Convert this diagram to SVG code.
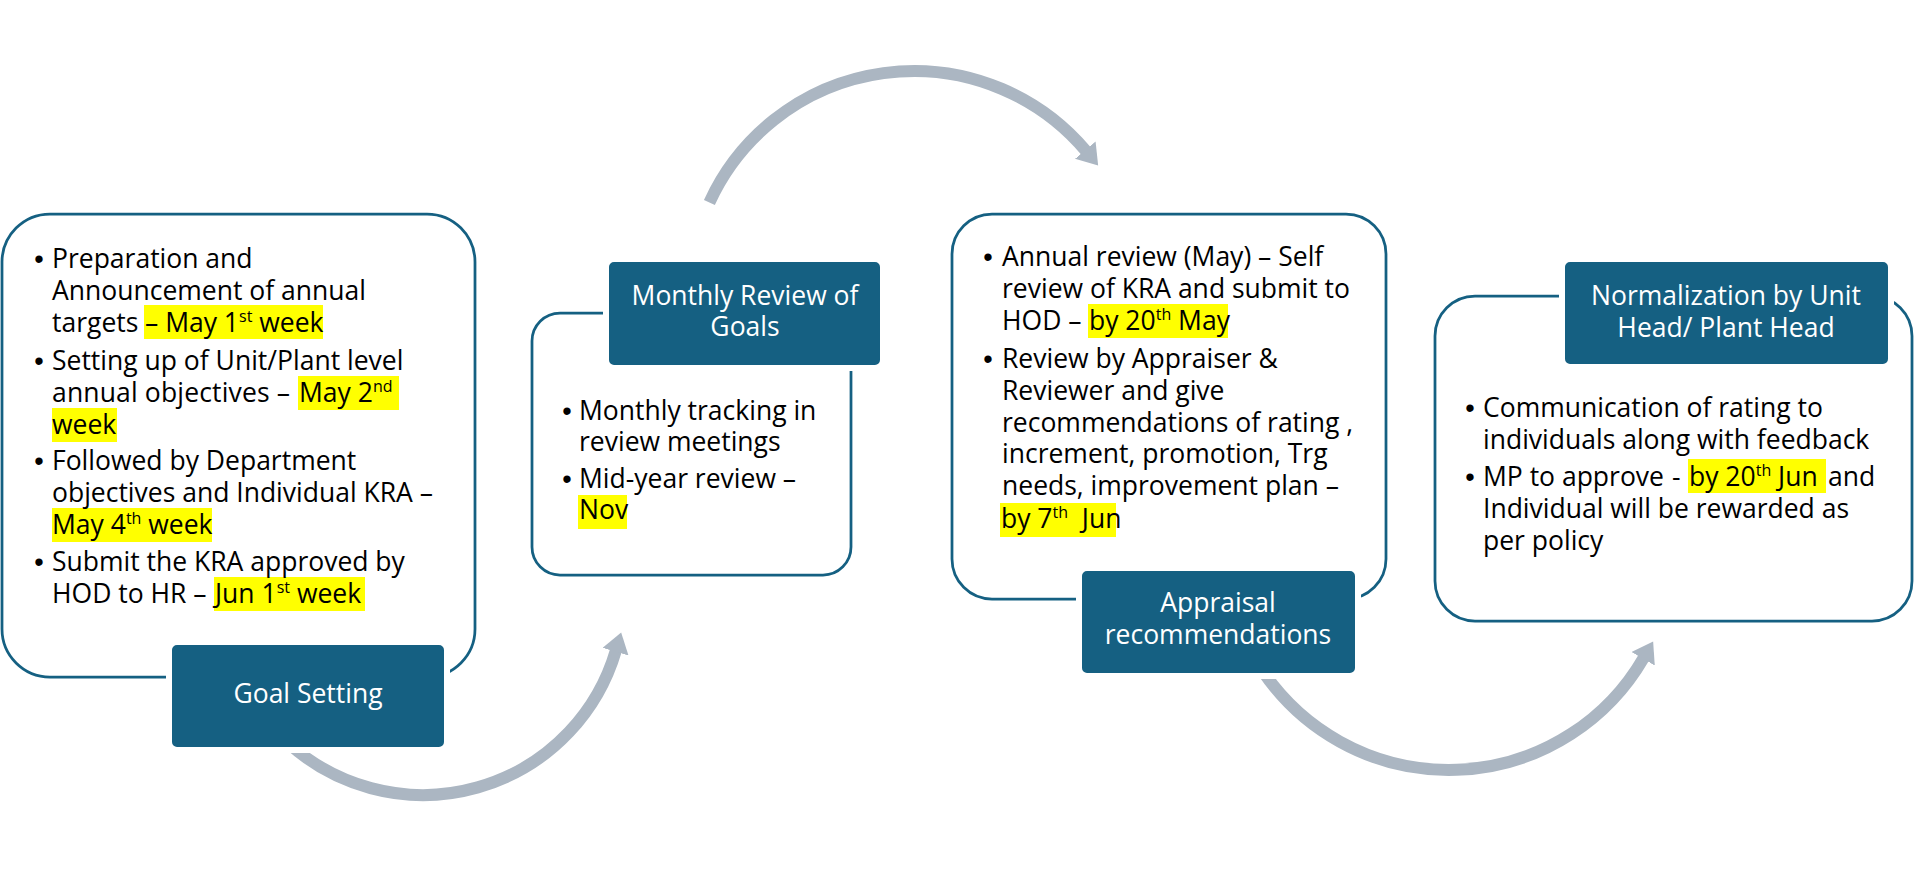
<svg xmlns="http://www.w3.org/2000/svg" width="1915" height="889" viewBox="0 0 1915 889">
<style>
.t{font-family:"Open Sans","Liberation Sans",sans-serif;font-size:26.5px;fill:#000}
.h{font-family:"Open Sans","Liberation Sans",sans-serif;font-size:26.5px;fill:#fff;text-anchor:middle}
.b{font-family:"Liberation Sans",Arial,sans-serif;font-size:27px;fill:#000;text-anchor:middle}
.sup{font-size:16px}
.hl{fill:#ffff00}
.box{fill:#fff;stroke:#156082;stroke-width:2.75}
.hdr{fill:#156082;stroke:#fff;stroke-width:6}
.arc{fill:none;stroke:#abb6c2;stroke-width:12;marker-end:url(#ah)}
</style>
<defs>
<marker id="ah" markerUnits="userSpaceOnUse" viewBox="0 0 22 27" markerWidth="22" markerHeight="27" refX="1" refY="13.5" orient="auto">
<path d="M0,0 L20,13.5 L0,27 Z" fill="#abb6c2"/>
</marker>
</defs>
<rect width="1915" height="889" fill="#fff"/>
<g id="connectors">
<path class="arc" d="M 288.5 743.4 A 201 201 0 0 0 615.8 650.7"/>
<path class="arc" d="M 709.4 202.4 A 225 225 0 0 1 1085.9 150.9"/>
<path class="arc" d="M 1262.5 670.8 A 225 225 0 0 0 1643.6 657.9"/>
</g>
<g id="goal-setting">
<rect class="box" x="2" y="214" width="473" height="463" rx="48"/>
<rect class="hl" x="144" y="305" width="179" height="34"/>
<rect class="hl" x="298" y="376" width="101" height="34"/>
<rect class="hl" x="52" y="408" width="65" height="34"/>
<rect class="hl" x="52" y="508" width="160" height="34"/>
<rect class="hl" x="214" y="577" width="151" height="34"/>
<text class="b" x="39" y="268">•</text>
<text class="b" x="39" y="370">•</text>
<text class="b" x="39" y="470">•</text>
<text class="b" x="39" y="571">•</text>
<text class="t" x="52" y="268">Preparation and</text>
<text class="t" x="52" y="300">Announcement of annual</text>
<text class="t" x="52" y="332">targets</text>
<text class="t" x="145" y="332">– May 1<tspan class="sup" dy="-10">st</tspan><tspan dy="10"> week</tspan></text>
<text class="t" x="52" y="370">Setting up of Unit/Plant level</text>
<text class="t" x="52" y="402" textLength="238">annual objectives –</text>
<text class="t" x="299" y="402">May 2<tspan class="sup" dy="-10">nd</tspan></text>
<text class="t" x="52" y="434">week</text>
<text class="t" x="52" y="470">Followed by Department</text>
<text class="t" x="52" y="502">objectives and Individual KRA –</text>
<text class="t" x="52" y="534">May 4<tspan class="sup" dy="-10">th</tspan><tspan dy="10"> week</tspan></text>
<text class="t" x="52" y="571">Submit the KRA approved by</text>
<text class="t" x="52" y="603">HOD to HR –</text>
<text class="t" x="215" y="603">Jun 1<tspan class="sup" dy="-10">st</tspan><tspan dy="10"> week</tspan></text>
<rect class="hdr" x="169" y="642" width="278" height="108" rx="8"/>
<text class="h" x="308" y="703">Goal Setting</text>
</g>
<g id="monthly-review">
<rect class="box" x="532" y="313" width="319" height="262" rx="28"/>
<rect class="hl" x="578" y="495" width="49" height="34"/>
<text class="b" x="567" y="420">•</text>
<text class="b" x="567" y="488">•</text>
<text class="t" x="579" y="420">Monthly tracking in</text>
<text class="t" x="579" y="451">review meetings</text>
<text class="t" x="579" y="488">Mid-year review –</text>
<text class="t" x="579" y="519">Nov</text>
<rect class="hdr" x="606" y="259" width="277" height="109" rx="8"/>
<text class="h" x="745" y="305">Monthly Review of</text>
<text class="h" x="745" y="336">Goals</text>
</g>
<g id="appraisal">
<rect class="box" x="952" y="214" width="434" height="385" rx="40"/>
<rect class="hl" x="1088" y="304" width="140" height="34"/>
<rect class="hl" x="1000" y="503" width="116" height="34"/>
<text class="b" x="988" y="266">•</text>
<text class="b" x="988" y="368">•</text>
<text class="t" x="1002" y="266">Annual review (May) – Self</text>
<text class="t" x="1002" y="298">review of KRA and submit to</text>
<text class="t" x="1002" y="330">HOD –</text>
<text class="t" x="1089" y="330">by 20<tspan class="sup" dy="-10">th</tspan><tspan dy="10"> May</tspan></text>
<text class="t" x="1002" y="368">Review by Appraiser &amp;</text>
<text class="t" x="1002" y="400">Reviewer and give</text>
<text class="t" x="1002" y="432">recommendations of rating ,</text>
<text class="t" x="1002" y="463">increment, promotion, Trg</text>
<text class="t" x="1002" y="495">needs, improvement plan –</text>
<text class="t" x="1001" y="528">by 7<tspan class="sup" dy="-10">th</tspan><tspan dy="10">&#160; Jun</tspan></text>
<rect class="hdr" x="1079" y="568" width="279" height="108" rx="8"/>
<text class="h" x="1218" y="612">Appraisal</text>
<text class="h" x="1218" y="644">recommendations</text>
</g>
<g id="normalization">
<rect class="box" x="1435" y="296" width="477" height="325" rx="40"/>
<rect class="hl" x="1688" y="459" width="138" height="34"/>
<text class="b" x="1470" y="417">•</text>
<text class="b" x="1470" y="486">•</text>
<text class="t" x="1483" y="417">Communication of rating to</text>
<text class="t" x="1483" y="449">individuals along with feedback</text>
<text class="t" x="1483" y="486">MP to approve</text>
<text class="t" x="1672" y="486">-</text>
<text class="t" x="1689" y="486">by 20<tspan class="sup" dy="-10">th</tspan><tspan dy="10"> Jun</tspan></text>
<text class="t" x="1828" y="486">and</text>
<text class="t" x="1483" y="518">Individual will be rewarded as</text>
<text class="t" x="1483" y="550">per policy</text>
<rect class="hdr" x="1562" y="259" width="329" height="108" rx="8"/>
<text class="h" x="1726" y="305">Normalization by Unit</text>
<text class="h" x="1726" y="337">Head/ Plant Head</text>
</g>
</svg>
